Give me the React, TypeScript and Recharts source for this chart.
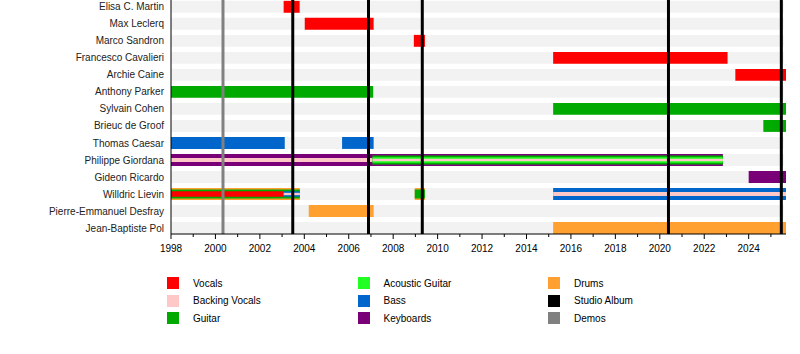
import { ComposedChart, XAxis, YAxis, ReferenceArea, ReferenceLine } from 'recharts'

const members = [
  'Elisa C. Martin',
  'Max Leclerq',
  'Marco Sandron',
  'Francesco Cavalieri',
  'Archie Caine',
  'Anthony Parker',
  'Sylvain Cohen',
  'Brieuc de Groof',
  'Thomas Caesar',
  'Philippe Giordana',
  'Gideon Ricardo',
  'Willdric Lievin',
  'Pierre-Emmanuel Desfray',
  'Jean-Baptiste Pol',
]

const roles = ['Vocals', 'Backing Vocals', 'Guitar', 'Acoustic Guitar', 'Bass', 'Keyboards', 'Drums']

const roleColors: Record<string, string> = {
  Vocals: '#ff0000',
  'Backing Vocals': '#ffc8c8',
  Guitar: '#00aa00',
  'Acoustic Guitar': '#22ff22',
  Bass: '#0066cc',
  Keyboards: '#7a0078',
  Drums: '#ffa030',
}

// [member, role, from, to] — outer role first, inner roles after
const periods: [string, string, number, number][] = [
  ['Elisa C. Martin', 'Vocals', 2003.07, 2003.79],
  ['Max Leclerq', 'Vocals', 2004.02, 2007.12],
  ['Marco Sandron', 'Vocals', 2008.93, 2009.43],
  ['Francesco Cavalieri', 'Vocals', 2015.2, 2023.05],
  ['Archie Caine', 'Vocals', 2023.4, 2025.68],
  ['Anthony Parker', 'Guitar', 1998, 2007.1],
  ['Sylvain Cohen', 'Guitar', 2015.2, 2025.68],
  ['Brieuc de Groof', 'Guitar', 2024.66, 2025.68],
  ['Thomas Caesar', 'Bass', 1998, 2003.12],
  ['Thomas Caesar', 'Bass', 2005.7, 2007.12],
  ['Philippe Giordana', 'Keyboards', 1998, 2022.84],
  ['Philippe Giordana', 'Backing Vocals', 1998, 2007.07],
  ['Philippe Giordana', 'Guitar', 2007.07, 2022.84],
  ['Philippe Giordana', 'Acoustic Guitar', 2007.07, 2022.84],
  ['Philippe Giordana', 'Backing Vocals', 2007.07, 2022.84],
  ['Gideon Ricardo', 'Keyboards', 2024.0, 2025.68],
  ['Willdric Lievin', 'Drums', 1998, 2003.8],
  ['Willdric Lievin', 'Guitar', 1998, 2003.8],
  ['Willdric Lievin', 'Vocals', 1998, 2003.07],
  ['Willdric Lievin', 'Bass', 2003.07, 2003.8],
  ['Willdric Lievin', 'Backing Vocals', 2003.07, 2003.8],
  ['Willdric Lievin', 'Drums', 2008.97, 2009.43],
  ['Willdric Lievin', 'Guitar', 2008.97, 2009.43],
  ['Willdric Lievin', 'Bass', 2015.2, 2025.68],
  ['Willdric Lievin', 'Backing Vocals', 2015.2, 2025.68],
  ['Pierre-Emmanuel Desfray', 'Drums', 2004.2, 2007.12],
  ['Jean-Baptiste Pol', 'Drums', 2015.2, 2025.68],
]

const studioAlbums = [2003.48, 2006.89, 2009.31, 2020.39, 2025.47]
const demos = [2000.34]

const years = [
  1998, 1999, 2000, 2001, 2002, 2003, 2004, 2005, 2006, 2007, 2008, 2009, 2010, 2011,
  2012, 2013, 2014, 2015, 2016, 2017, 2018, 2019, 2020, 2021, 2022, 2023, 2024, 2025,
]
const timelineStart = 1998
const timelineEnd = 2025.68

const FONT = '"Liberation Sans", Arial, sans-serif'
const BAR = 0.35 // half bar height in row units
const layerScale = [1, 0.75, 0.45, 0.2]

// nesting depth = how many earlier periods of the same member overlap this one
const layered = periods.map(([member, role, from, to], i) => {
  const depth = periods
    .slice(0, i)
    .filter(([m, , f, t]) => m === member && f < to && t > from).length
  let scale = layerScale[depth]
  if (role === 'Backing Vocals') scale = Math.min(scale, 0.35) // thin bar
  return { row: members.indexOf(member), role, from, to, scale }
})

const YearTick = ({ x, y, payload }: any) => {
  const major = payload.value % 2 === 0
  return (
    <g>
      <line x1={x} x2={x} y1={y} y2={y + (major ? 5 : 3)} stroke="#000" />
      {major && (
        <text x={x} y={y + 18} textAnchor="middle" fontSize={10} fontFamily={FONT} fill="#000">
          {payload.value}
        </text>
      )}
    </g>
  )
}

export default function App() {
  return (
    <div style={{ position: 'absolute', left: 0, top: 0, width: 800, height: 354, background: '#fff' }}>
      <ComposedChart width={800} height={354} margin={{ top: 0, right: 14, left: 0, bottom: 100 }}>
        <XAxis
          type="number"
          dataKey="x"
          domain={[timelineStart, timelineEnd]}
          allowDataOverflow
          ticks={years}
          interval={0}
          tick={<YearTick />}
          tickLine={false}
          tickSize={0}
          tickMargin={0}
          axisLine={{ stroke: '#000' }}
          height={20}
        />
        <YAxis
          type="number"
          dataKey="y"
          domain={[-0.4, 13.35]}
          allowDataOverflow
          reversed
          ticks={members.map((_, i) => i)}
          interval={0}
          tickFormatter={(v: number) => members[v] ?? ''}
          tickLine={false}
          tickSize={0}
          tickMargin={7}
          axisLine={{ stroke: '#000' }}
          tick={{ fill: '#222', fontSize: 10, fontFamily: FONT }}
          width={171}
        />
        {members.map((m, i) => (
          <ReferenceArea
            key={'bg' + m}
            x1={timelineStart}
            x2={timelineEnd - 0.1}
            y1={i - BAR}
            y2={i + BAR}
            fill="#f2f2f2"
            fillOpacity={1}
            stroke="none"
            ifOverflow="visible"
          />
        ))}
        {layered.map((p, i) => {
          const h = BAR * p.scale
          return (
            <ReferenceArea
              key={'p' + i}
              x1={p.from}
              x2={p.to}
              y1={p.row - h}
              y2={p.row + h}
              fill={roleColors[p.role]}
              fillOpacity={1}
              stroke="none"
              ifOverflow="visible"
            />
          )
        })}
        {demos.map((d) => (
          <ReferenceLine key={'d' + d} x={d} stroke="#808080" strokeWidth={3} ifOverflow="visible" />
        ))}
        {studioAlbums.map((d) => (
          <ReferenceLine key={'s' + d} x={d} stroke="#000" strokeWidth={3} ifOverflow="visible" />
        ))}
      </ComposedChart>
      <div style={{ position: 'absolute', left: 167, top: 277, fontFamily: FONT, fontSize: 10, color: '#000' }}>
        {[...roles, 'Studio Album', 'Demos'].map((r, i) => {
          const col = Math.floor(i / 3)
          const row = i % 3
          const color = roleColors[r] ?? (r === 'Studio Album' ? '#000' : '#808080')
          return (
            <div
              key={r}
              style={{
                position: 'absolute',
                left: col * 190.5,
                top: row * 17.5,
                display: 'flex',
                alignItems: 'center',
                whiteSpace: 'nowrap',
              }}
            >
              <span style={{ display: 'inline-block', width: 12, height: 12, background: color, marginRight: 14 }} />
              <span>{r}</span>
            </div>
          )
        })}
      </div>
    </div>
  )
}
